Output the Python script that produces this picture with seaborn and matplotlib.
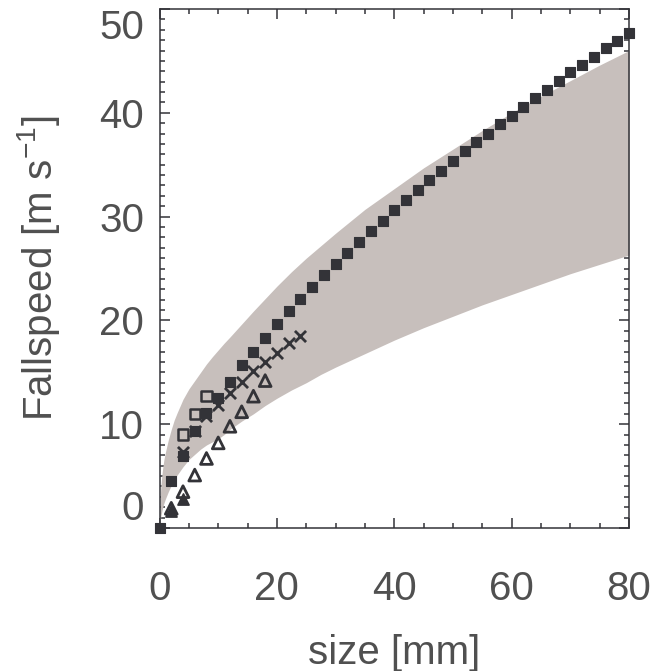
import numpy as np
import pandas as pd
import matplotlib
matplotlib.use("Agg")
import matplotlib.pyplot as plt
import seaborn as sns
from matplotlib.ticker import MultipleLocator

# envelope of the grey band (fall-speed relations)
band_x = [0, 0.1, 0.25, 0.5, 0.75, 1, 1.5, 2, 2.5, 3, 4, 5, 6, 7, 8, 9, 10,
          11, 12, 14, 16, 18, 20, 22.5, 25, 27.5, 30, 35, 40, 45, 50, 55,
          60, 65, 70, 75, 80]
band_upper = [0, 2.8, 4.2, 5.6, 6.6, 7.3, 8.5, 9.5, 10.4, 11.1, 12.4, 13.4,
              14.2, 15.0, 15.8, 16.5, 17.15, 17.8, 18.4, 19.65, 20.9, 22.1,
              23.3, 24.7, 26.0, 27.2, 28.4, 30.7, 32.7, 34.7, 36.5, 38.3,
              40.0, 41.6, 43.1, 44.6, 46.0]
band_lower = [0, 0.6, 1.2, 1.9, 2.4, 2.8, 3.5, 4.1, 4.6, 5.1, 5.9, 6.6,
              7.1, 7.6, 8.0, 8.3, 8.6, 9.0, 9.5, 10.3, 11.0, 11.8, 12.5,
              13.3, 14.0, 14.8, 15.5, 16.8, 18.1, 19.3, 20.4, 21.5, 22.5,
              23.5, 24.5, 25.4, 26.3]

# filled squares
sq_x = list(range(0, 82, 2))
sq_y = [0, 4.5, 6.9, 9.3, 11.1, 12.5, 14.1, 15.7, 17.0, 18.3, 19.65, 20.9,
        22.1, 23.25, 24.4, 25.4, 26.5, 27.6, 28.6, 29.6, 30.6, 31.6, 32.6,
        33.5, 34.4, 35.4, 36.3, 37.2, 38.0, 38.9, 39.7, 40.6, 41.4, 42.2,
        43.1, 43.9, 44.6, 45.4, 46.2, 46.9, 47.7]

# open squares
osq_x = [4, 6, 8]
osq_y = [9.0, 11.0, 12.7]

# crosses
cr_x = [4, 6, 8, 10, 12, 14, 16, 18, 20, 22, 24]
cr_y = [7.3, 9.3, 10.8, 11.85, 13.0, 14.1, 15.1, 16.0, 16.9, 17.8, 18.5]

# open triangles
tri_x = [2, 4, 6, 8, 10, 12, 14, 16, 18]
tri_y = [1.9, 3.5, 5.1, 6.7, 8.2, 9.8, 11.2, 12.7, 14.2]

# second (overlapping) triangle set at small sizes
tri2_x = [2, 4]
tri2_y = [1.6, 2.8]

dark = "#333338"
grey_txt = "#505050"
band_col = "#c7bfbc"

sns.set_style("ticks")
plt.rcParams["font.family"] = ["Liberation Sans", "DejaVu Sans"]
plt.rcParams["mathtext.fontset"] = "custom"
plt.rcParams["mathtext.rm"] = "Liberation Sans"

fig = plt.figure(figsize=(6.53, 6.71), dpi=100)
ax = fig.add_axes([0.2443, 0.2131, 0.719, 0.7735])

ax.fill_between(band_x, band_lower, band_upper, color=band_col, lw=0, zorder=1)

sns.scatterplot(x=tri2_x, y=tri2_y, marker="^", s=64, color=dark,
                edgecolor=dark, linewidth=1.2, ax=ax, zorder=4)
sns.scatterplot(x=tri_x, y=tri_y, marker="^", s=72, facecolor="none",
                edgecolor=dark, linewidth=2.0, ax=ax, zorder=4)
sns.scatterplot(x=cr_x, y=cr_y, marker="x", s=64, color=dark,
                linewidth=2.0, ax=ax, zorder=4)
sns.scatterplot(x=osq_x, y=osq_y, marker="s", s=56, facecolor="none",
                edgecolor=dark, linewidth=1.8, ax=ax, zorder=4)
sns.scatterplot(x=sq_x, y=sq_y, marker="s", s=42, color=dark,
                edgecolor=dark, linewidth=0.8, ax=ax, zorder=5, clip_on=False)

ax.set_xlim(0, 80)
ax.set_ylim(0, 50)
ax.set_xticks([0, 20, 40, 60, 80])
ax.set_yticks([0, 10, 20, 30, 40, 50])
ax.xaxis.set_minor_locator(MultipleLocator(5))
ax.yaxis.set_minor_locator(MultipleLocator(1))
ax.tick_params(which="both", direction="in", top=True, right=True,
               color=dark, width=1.1)
ax.tick_params(which="major", length=7.5)
ax.tick_params(which="minor", length=3.8)
ax.tick_params(axis="x", which="major", pad=30, labelsize=29,
               labelcolor=grey_txt)
ax.tick_params(axis="y", which="major", pad=11, labelsize=29,
               labelcolor=grey_txt)
for s in ax.spines.values():
    s.set_color(dark)
    s.set_linewidth(1.1)

yt = ax.yaxis.get_major_ticks()
yt[0].label1.set_verticalalignment("bottom")
yt[-1].label1.set_verticalalignment("top")

ax.set_xlabel("size [mm]", fontsize=29, color=grey_txt, labelpad=19)
ax.set_ylabel("Fallspeed [m s$^{\\mathregular{-1}}$]", fontsize=29,
              color=grey_txt, labelpad=27)

fig.savefig("out.png", dpi=100)
plt.close(fig)
